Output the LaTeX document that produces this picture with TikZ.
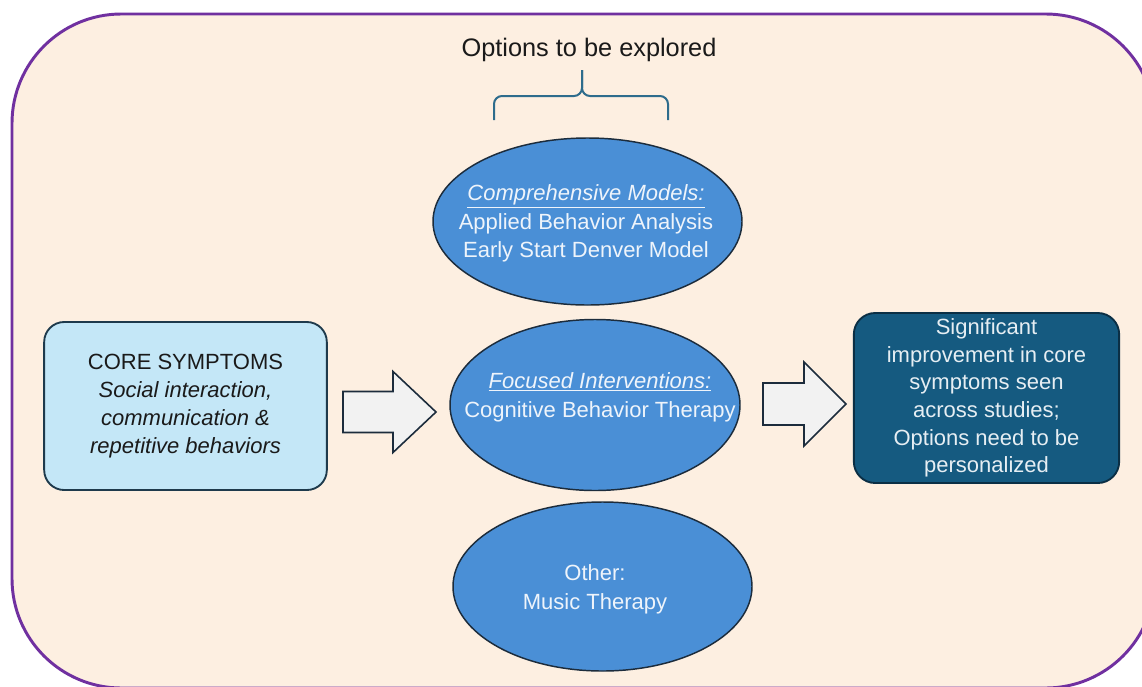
\documentclass[tikz,border=0pt]{standalone}
\usepackage{fontspec}
\setmainfont{Liberation Sans}
\usepackage{tikz}
\usetikzlibrary{shapes.geometric}
\usetikzlibrary{calc}
\definecolor{peach}{HTML}{FDEFE1}
\definecolor{framepurple}{HTML}{7030A0}
\definecolor{ovalblue}{HTML}{4A8FD6}
\definecolor{ovalline}{HTML}{1C2C3C}
\definecolor{ovalfont}{HTML}{EEF4FB}
\definecolor{corefill}{HTML}{C4E7F7}
\definecolor{coreline}{HTML}{1E3A4C}
\definecolor{resultfill}{HTML}{155A80}
\definecolor{resultline}{HTML}{0B2F45}
\definecolor{resultfont}{HTML}{E6EEF3}
\definecolor{bracecol}{HTML}{2E6C8C}
\definecolor{arrowfill}{HTML}{F2F2F2}
\definecolor{darkfont}{HTML}{1A1A1A}
\tikzset{
  frame/.style={draw=framepurple, line width=2.2pt, fill=peach, rounded corners=82pt},
  oval/.style={ellipse, draw=ovalline, line width=1.1pt, fill=ovalblue, inner sep=0pt},
  ovaltext/.style={align=center, text=ovalfont, font=\fontsize{16.5}{21.5}\selectfont},
  corebox/.style={draw=coreline, line width=1.4pt, fill=corefill, rounded corners=15pt,
    minimum width=212pt, minimum height=126pt, inner sep=0pt, align=center,
    text=darkfont, font=\fontsize{16.5}{21}\selectfont},
  resultbox/.style={draw=resultline, line width=1.4pt, fill=resultfill, rounded corners=16pt,
    minimum width=199pt, minimum height=127.5pt, inner sep=0pt, align=center,
    text=resultfont, font=\fontsize{16.5}{20.7}\selectfont},
  blockarrow/.style={draw=ovalline, line width=1.2pt, fill=arrowfill, line join=miter},
  brace/.style={draw=bracecol, line width=1.5pt, rounded corners=6pt},
}
\begin{document}
\begin{tikzpicture}[x=0.75pt, y=-0.75pt]
\useasboundingbox (0,0) rectangle (1142,686);
\fill[white] (0,0) rectangle (1142,686);
\clip (0,0) rectangle (1142,686);
\draw[frame] (12,14) rectangle (1155,688);

% heading and brace
\node[text=darkfont, font=\fontsize{19}{23}\selectfont] (title) at (589,50) {Options to be explored};
\draw[brace] (494,120) -- (494,96) -- (582,96) -- (582,70);
\draw[brace] (668,120) -- (668,96) -- (582,96) -- (582,70);

% the three options
\node[oval, minimum width=231.75pt, minimum height=125.25pt] (comp) at (587.5,221.5) {};
\node[ovaltext] (compText) at (586,223.5) {\underline{\textit{Comprehensive Models:}}\\Applied Behavior Analysis\\Early Start Denver Model};
\node[oval, minimum width=217.5pt, minimum height=128.25pt] (focus) at (595,405) {};
\node[ovaltext] (focusText) at (600,397) {\underline{\textit{Focused Interventions:}}\\Cognitive Behavior Therapy};
\node[oval, minimum width=224.25pt, minimum height=126.75pt] (other) at (602.5,586.5) {};
\node[ovaltext] (otherText) at (595,589) {Other:\\Music Therapy};

% left and right boxes
\node[corebox] (core) at (185.5,406) {CORE SYMPTOMS\\\textit{Social interaction,}\\\textit{communication \&}\\\textit{repetitive behaviors}};
\node[resultbox] (result) at (986.5,398) {Significant\\improvement in core\\symptoms seen\\across studies;\\Options need to be\\personalized};

% block arrows
\coordinate (inTail) at (343,412);
\coordinate (inTip) at (436,412);
\draw[blockarrow] ($(inTail)+(0,-20.5)$) -- ++(50,0) -- ++(0,-20) -- (inTip)
  -- ($(inTail)+(50,40.5)$) -- ++(0,-20) -- ($(inTail)+(0,20.5)$) -- cycle;
\coordinate (outTail) at (763,404);
\coordinate (outTip) at (846,404);
\draw[blockarrow] ($(outTail)+(0,-21)$) -- ++(41,0) -- ++(0,-21) -- (outTip)
  -- ($(outTail)+(41,42)$) -- ++(0,-21) -- ($(outTail)+(0,21)$) -- cycle;
\end{tikzpicture}
\end{document}
